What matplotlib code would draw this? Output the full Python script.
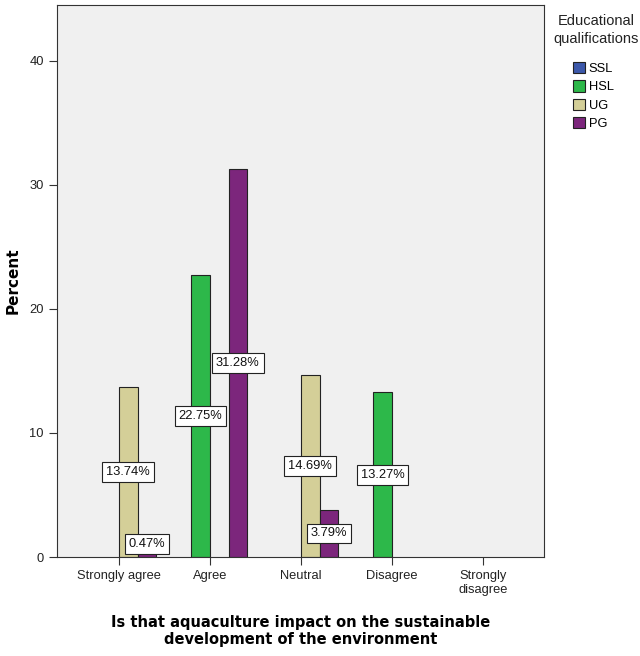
import matplotlib
matplotlib.use("Agg")
import matplotlib.pyplot as plt
import numpy as np

categories = ["Strongly agree", "Agree", "Neutral", "Disagree", "Strongly\ndisagree"]
series = ["SSL", "HSL", "UG", "PG"]
colors = ["#3C58AA", "#2DB84A", "#D4CF98", "#7C267C"]
values = {
    "SSL": [0, 0, 0, 0, 0],
    "HSL": [0, 22.75, 0, 13.27, 0],
    "UG": [13.74, 0, 14.69, 0, 0],
    "PG": [0.47, 31.28, 3.79, 0, 0],
}
yticks = [0, 10, 20, 30, 40]

plt.rcParams['font.family'] = ['Liberation Sans', 'DejaVu Sans']

fig = plt.figure(figsize=(6.4, 6.56), dpi=100)
ax = fig.add_axes([57/640, 1-557/656, (544-57)/640, (557-5)/656])
ax.set_facecolor("#F0F0F0")

x = np.arange(len(categories))
w = 0.205
handles = []
for i, s in enumerate(series):
    offs = (i - 1.5) * w
    vals = values[s]
    for xi, v in zip(x, vals):
        if v > 0:
            ax.bar(xi + offs, v, width=w, color=colors[i], edgecolor="#222222", linewidth=0.8, zorder=2)
            ax.text(xi + offs, max(v / 2, 1.05), f"{v:.2f}%", ha="center", va="center",
                    fontsize=9.3, zorder=4, color="#111111",
                    bbox=dict(boxstyle="square,pad=0.3", facecolor="white", edgecolor="#222222", linewidth=0.8))
    h = ax.bar([np.nan], [np.nan], color=colors[i], edgecolor="#222222", linewidth=0.8, label=s)
    handles.append(h)

ax.set_xlim(-0.68, 4.67)
ax.set_ylim(0, 44.5)
ax.set_yticks(yticks)
ax.set_xticks(x)
ax.set_xticklabels(categories, fontsize=9.3, linespacing=1.15)
ax.tick_params(axis="both", labelsize=9.3, length=6, width=0.8, color="#333333", labelcolor="#222222")
for sp in ax.spines.values():
    sp.set_color("#333333")
    sp.set_linewidth(0.8)

ax.set_ylabel("Percent", fontsize=11, fontweight="bold", family="DejaVu Sans", labelpad=6)
ax.set_xlabel("Is that aquaculture impact on the sustainable\ndevelopment of the environment",
              fontsize=10.5, fontweight="bold", family="DejaVu Sans", labelpad=14, linespacing=1.15)

fig.text(596/640, 1-30/656, "Educational\nqualifications", ha="center", va="center",
         fontsize=10.5, linespacing=1.3, color="#222222")
fig.legend(handles=handles, labels=series, loc="upper left", bbox_to_anchor=(573/640, 1-62/656),
           frameon=False, fontsize=9.3, handlelength=0.95, handleheight=0.95, handletextpad=0.25,
           labelspacing=0.42, borderpad=0.0, borderaxespad=0.0)

fig.savefig("out.png", dpi=100)
